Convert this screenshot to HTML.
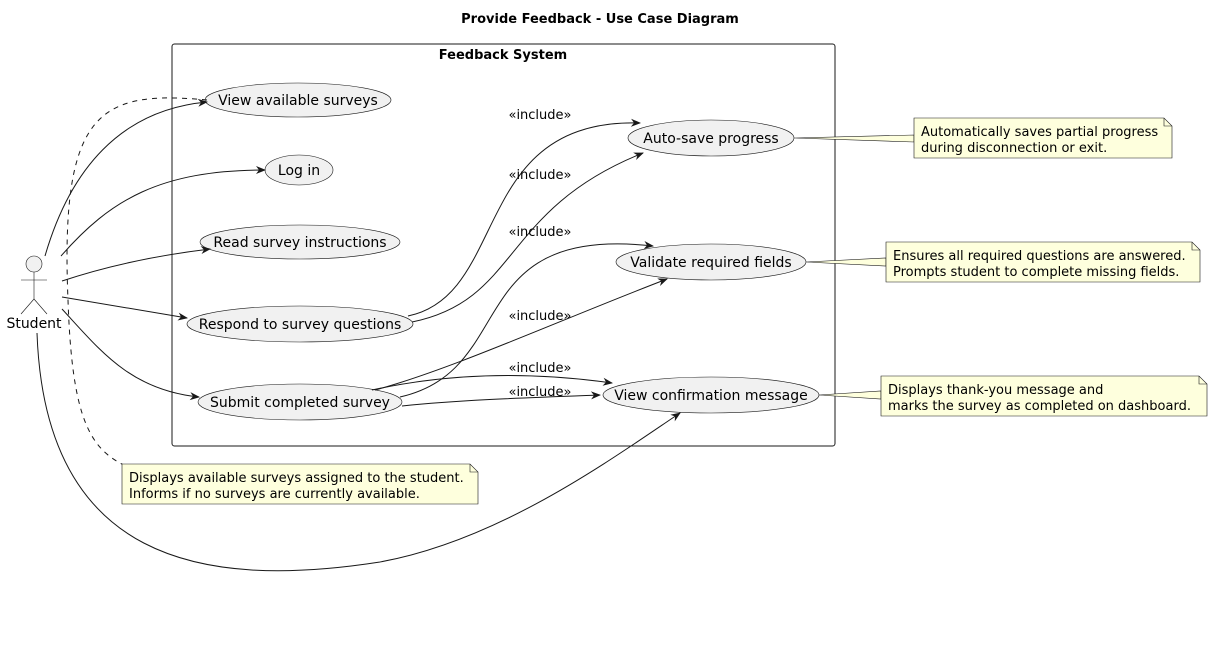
<!DOCTYPE html>
<html><head><meta charset="utf-8"><style>body{margin:0;background:#fff}svg{display:block}text{font-family:"DejaVu Sans","Liberation Sans",sans-serif}</style></head><body>
<svg width="1212" height="653" viewBox="0 0 1212 653" xmlns="http://www.w3.org/2000/svg">
<defs><marker id="a" markerWidth="10" markerHeight="10" refX="9" refY="5" orient="auto" markerUnits="userSpaceOnUse"><path d="M0,1 L10,5 L0,9 L3,5 Z" fill="#181818"/></marker></defs>
<text x="600" y="23" font-size="13" font-weight="bold" text-anchor="middle">Provide Feedback - Use Case Diagram</text>
<rect x="172" y="44" width="663" height="402" rx="2.5" fill="none" stroke="#181818" stroke-width="1"/>
<text x="503" y="59" font-size="13" font-weight="bold" text-anchor="middle">Feedback System</text>
<g fill="#F1F1F1" stroke="#181818" stroke-width="0.6">
<ellipse cx="298" cy="100" rx="93" ry="17"/>
<ellipse cx="299" cy="170" rx="34" ry="15"/>
<ellipse cx="300" cy="242" rx="100" ry="17"/>
<ellipse cx="300" cy="324" rx="113" ry="18"/>
<ellipse cx="300" cy="402" rx="102" ry="18"/>
<ellipse cx="711" cy="138" rx="83" ry="18"/>
<ellipse cx="711" cy="262" rx="95" ry="18"/>
<ellipse cx="711" cy="395" rx="108" ry="18"/>
</g>
<g font-size="14" text-anchor="middle">
<text x="298" y="105">View available surveys</text>
<text x="299" y="175">Log in</text>
<text x="300" y="247">Read survey instructions</text>
<text x="300" y="329">Respond to survey questions</text>
<text x="300" y="407">Submit completed survey</text>
<text x="711" y="143">Auto-save progress</text>
<text x="711" y="267">Validate required fields</text>
<text x="711" y="400">View confirmation message</text>
</g>
<g fill="#F1F1F1" stroke="#181818" stroke-width="0.6">
<circle cx="34" cy="264" r="8"/>
</g>
<g stroke="#181818" stroke-width="0.6" fill="none">
<line x1="34" y1="272" x2="34" y2="299"/><line x1="21" y1="280" x2="47" y2="280"/>
<line x1="34" y1="299" x2="21" y2="314"/><line x1="34" y1="299" x2="47" y2="314"/>
</g>
<text x="34" y="328" font-size="14" text-anchor="middle">Student</text>
<g stroke="#181818" stroke-width="1" fill="none" marker-end="url(#a)">
<path d="M45,256 C70,170 120,110 207,102"/>
<path d="M61,256 C110,200 160,170 265,170"/>
<path d="M62,281 C110,265 160,255 210,249"/>
<path d="M62,297 C110,305 150,312 187,318"/>
<path d="M62,309 C100,350 130,390 199,397"/>
<path d="M37,333 C45,560 200,590 380,562 C500,540 610,460 680,413"/>
<path d="M408,316 C510,295 470,118 640,123"/>
<path d="M412,322 C520,300 500,210 643,153"/>
<path d="M400,397 C520,370 460,225 653,246"/>
<path d="M375,390 C450,370 560,320 667,279"/>
<path d="M372,390 C440,375 520,370 612,383"/>
<path d="M402,406 C460,400 520,398 600,395"/>
</g>
<g font-size="13" text-anchor="middle">
<text x="540" y="119">«include»</text>
<text x="540" y="179">«include»</text>
<text x="540" y="236">«include»</text>
<text x="540" y="320">«include»</text>
<text x="540" y="372">«include»</text>
<text x="540" y="396">«include»</text>
</g>
<path d="M207,100 C100,90 60,110 68,300 C72,420 90,450 128,467" fill="none" stroke="#181818" stroke-width="1" stroke-dasharray="5,5"/>
<g fill="#FEFFDD" stroke="#181818" stroke-width="0.6">
<path d="M794,138 L914,135 L914,142 Z"/>
<path d="M806,262 L886,258 L886,266 Z"/>
<path d="M819,395 L881,391 L881,399 Z"/>
<path d="M914,118 L1164,118 L1172,126 L1172,158 L914,158 Z"/><path d="M1164,118 L1164,126 L1172,126" fill="none"/>
<path d="M886,242 L1192,242 L1200,250 L1200,282 L886,282 Z"/><path d="M1192,242 L1192,250 L1200,250" fill="none"/>
<path d="M881,376 L1199,376 L1207,384 L1207,416 L881,416 Z"/><path d="M1199,376 L1199,384 L1207,384" fill="none"/>
<path d="M122,464 L470,464 L478,472 L478,504 L122,504 Z"/><path d="M470,464 L470,472 L478,472" fill="none"/>
</g>
<g font-size="13">
<text x="921" y="136">Automatically saves partial progress</text>
<text x="921" y="152">during disconnection or exit.</text>
<text x="893" y="260">Ensures all required questions are answered.</text>
<text x="893" y="276">Prompts student to complete missing fields.</text>
<text x="888" y="394">Displays thank-you message and</text>
<text x="888" y="410">marks the survey as completed on dashboard.</text>
<text x="129" y="482">Displays available surveys assigned to the student.</text>
<text x="129" y="498">Informs if no surveys are currently available.</text>
</g>
</svg>
</body></html>
